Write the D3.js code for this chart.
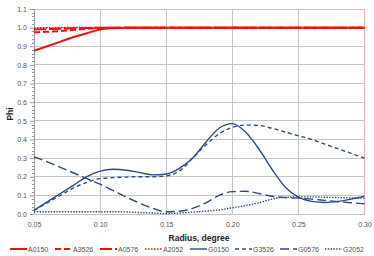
<!DOCTYPE html>
<html><head><meta charset="utf-8">
<script src="https://cdn.jsdelivr.net/npm/d3@7"></script>
<style>body{margin:0;background:#fff}svg{display:block;font-family:"Liberation Sans",Arial,sans-serif}</style>
</head><body><svg id="c" width="374" height="256"></svg>
<script>
const radius = [0.05,0.06,0.07,0.08,0.09,0.10,0.11,0.12,0.13,0.14,0.15,0.16,0.17,0.18,0.19,0.20,0.21,0.22,0.23,0.24,0.25,0.26,0.27,0.28,0.29,0.30];
const A0150 = [0.876,0.90,0.925,0.95,0.97,0.99,0.997,1,1,1,1,1,1,1,1,1,1,1,1,1,1,1,1,1,1,1];
const A3526 = [0.975,0.978,0.982,0.988,0.994,0.998,1,1,1,1,1,1,1,1,1,1,1,1,1,1,1,1,1,1,1,1];
const A0576 = [0.99,0.992,0.994,0.996,0.998,1,1,1,1,1,1,1,1,1,1,1,1,1,1,1,1,1,1,1,1,1];
const A2052 = [0.998,0.999,1,1,1,1,1,1,1,1,1,1,1,1,1,1,1,1,1,1,1,1,1,1,1,1];
const G0150 = [0.02,0.065,0.11,0.155,0.20,0.23,0.24,0.235,0.222,0.21,0.215,0.245,0.30,0.385,0.46,0.485,0.44,0.35,0.24,0.145,0.09,0.068,0.062,0.068,0.08,0.095];
const G3526 = [0.02,0.06,0.10,0.14,0.17,0.19,0.195,0.198,0.20,0.20,0.205,0.23,0.30,0.37,0.43,0.465,0.477,0.475,0.46,0.44,0.42,0.40,0.375,0.35,0.325,0.30];
const G0576 = [0.307,0.28,0.25,0.22,0.19,0.16,0.125,0.09,0.058,0.03,0.012,0.015,0.03,0.06,0.10,0.12,0.122,0.11,0.095,0.088,0.085,0.08,0.073,0.066,0.06,0.055];
const G2052 = [0.012,0.012,0.012,0.012,0.012,0.012,0.012,0.011,0.008,0.005,0.003,0.005,0.01,0.015,0.022,0.033,0.045,0.06,0.08,0.09,0.092,0.092,0.09,0.088,0.086,0.085];
const xTicks = [0.05,0.10,0.15,0.20,0.25,0.30];
const yTicks = [0.0,0.1,0.2,0.3,0.4,0.5,0.6,0.7,0.8,0.9,1.0,1.1];
const seriesNames = ["A0150","A3526","A0576","A2052","G0150","G3526","G0576","G2052"];
const seriesData = [A0150,A3526,A0576,A2052,G0150,G3526,G0576,G2052];

const RED = "#f01010", BLUE = "#2b4d80";
const styles = {
  A0150:{c:RED,w:2,d:null}, A3526:{c:RED,w:2,d:"6,3"}, A0576:{c:RED,w:2,d:"12,3"}, A2052:{c:RED,w:1.6,d:"1.5,1.5"},
  G0150:{c:BLUE,w:1.4,d:null}, G3526:{c:BLUE,w:1.4,d:"4,3"}, G0576:{c:BLUE,w:1.4,d:"9,4"}, G2052:{c:BLUE,w:1.4,d:"1.4,1.4"}
};

const svg = d3.select("#c");
const x = d3.scaleLinear().domain([0.05,0.30]).range([34,364.5]);
const y = d3.scaleLinear().domain([0,1.1]).range([214,9]);

// gridlines
const g = svg.append("g");
g.selectAll(".hg").data(yTicks).join("line")
  .attr("x1",x(0.05)).attr("x2",x(0.30)).attr("y1",d=>y(d)).attr("y2",d=>y(d))
  .attr("stroke",(d,i)=>i===yTicks.length-1?"#e4b4b4":"#c4c4c4").attr("stroke-width",1).attr("shape-rendering","crispEdges");
g.selectAll(".vg").data(xTicks.slice(1)).join("line")
  .attr("x1",d=>x(d)).attr("x2",d=>x(d)).attr("y1",y(0)).attr("y2",y(1.1))
  .attr("stroke",(d,i)=>i===xTicks.length-2?"#e4b4b4":"#c4c4c4").attr("stroke-width",1).attr("shape-rendering","crispEdges");

// y axis
const yAxis = d3.axisLeft(y).tickValues(yTicks).tickFormat(d3.format(".1f")).tickSize(4).tickPadding(3);
const ya = svg.append("g").attr("transform",`translate(${x(0.05)},0)`).call(yAxis);
ya.select(".domain").attr("stroke","#9a9a9a").attr("d",`M0.5,${y(0)}V${y(1.1)}`);
ya.selectAll(".tick line").attr("stroke","#9a9a9a");
ya.selectAll("text").attr("font-size",7).attr("fill","#555").attr("font-family","Liberation Sans, Arial");
const minor = d3.range(0,111,2).map(v=>v/100).filter(v=>Math.round(v*100)%10!==0);
svg.append("g").selectAll("line").data(minor).join("line")
  .attr("x1",x(0.05)-2).attr("x2",x(0.05)).attr("y1",d=>Math.round(y(d))+0.5).attr("y2",d=>Math.round(y(d))+0.5)
  .attr("stroke","#9a9a9a");

// x axis labels
const xAxis = d3.axisBottom(x).tickValues(xTicks).tickFormat(d3.format(".2f")).tickSize(0).tickPadding(8);
const xa = svg.append("g").attr("transform",`translate(0,${y(0)})`).call(xAxis);
xa.select(".domain").remove();
xa.selectAll("text").attr("font-size",7).attr("fill","#555").attr("font-family","Liberation Sans, Arial");

// lines
const line = d3.line().x((d,i)=>x(radius[i])).y(d=>y(d)).curve(d3.curveMonotoneX);
const order = [4,5,6,7,3,2,1,0];
order.forEach(i=>{
  const n = seriesNames[i], s = styles[n];
  svg.append("path").datum(seriesData[i]).attr("d",line).attr("fill","none")
    .attr("stroke",s.c).attr("stroke-width",s.w).attr("stroke-dasharray",s.d);
});

// titles
svg.append("text").attr("x",199).attr("y",241).attr("text-anchor","middle")
  .attr("font-size",8.5).attr("font-weight","bold").attr("fill","#222").text("Radius, degree");
svg.append("text").attr("transform","translate(13,114) rotate(-90)").attr("text-anchor","middle")
  .attr("font-size",8.5).attr("font-weight","bold").attr("fill","#222").text("Phi");

// legend
const leg = svg.append("g").attr("transform","translate(0,249)");
seriesNames.forEach((n,i)=>{
  const s = styles[n], x0 = 10 + i*45;
  leg.append("line").attr("x1",x0).attr("x2",x0+17).attr("y1",0).attr("y2",0)
    .attr("stroke",s.c).attr("stroke-width",s.w).attr("stroke-dasharray",s.d);
  leg.append("text").attr("x",x0+18).attr("y",2.5).attr("font-size",7).attr("fill","#555").text(n);
});
</script></body></html>
